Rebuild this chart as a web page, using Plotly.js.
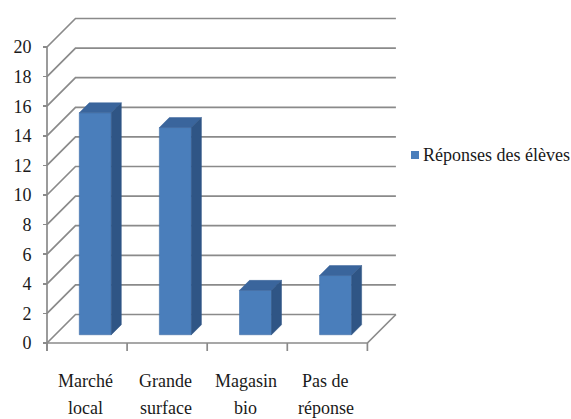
<!DOCTYPE html>
<html>
<head>
<meta charset="utf-8">
<script src="https://cdn.plot.ly/plotly-3.0.1.min.js"></script>
<style>html,body{margin:0;padding:0;background:#fff;}#chart{width:571px;height:419px;}</style>
</head>
<body>
<div id="chart"></div>
<script>
// ---- data ----
const categories = ["Marché local", "Grande surface", "Magasin bio", "Pas de réponse"];
const categoryLabelLines = [["Marché", "local"], ["Grande", "surface"], ["Magasin", "bio"], ["Pas de", "réponse"]];
const values = [15, 14, 3, 4];
const seriesName = "Réponses des élèves";
const yTicks = [0, 2, 4, 6, 8, 10, 12, 14, 16, 18, 20];

// ---- geometry (pixel layout of the pseudo-3D frame) ----
const W = 571, H = 419;
const PX_X0 = 47;          // front left edge of category axis
const PX_PER_CAT = 80.1;
const PX_Y0 = 343;         // front zero line
const PX_PER_UNIT = 14.8;
const DEPTH_PX = 28.5;
const FRONT_F = 0.29, BACK_F = 0.64, BAR_W = 0.4;

const xRange = [-0.5 - PX_X0 / PX_PER_CAT, -0.5 + (W - PX_X0) / PX_PER_CAT];
const yRange = [-(H - PX_Y0) / PX_PER_UNIT, PX_Y0 / PX_PER_UNIT];
const dX = DEPTH_PX / PX_PER_CAT, dY = DEPTH_PX / PX_PER_UNIT;
const n = categories.length;
const yMax = yTicks[yTicks.length - 1];
const xL = -0.5, xR = n - 0.5;

const COL_FRONT = '#4A7EBB', COL_TOP = '#3A659C', COL_SIDE = '#2F5585', GRID = '#8a8a8a';

// back wall + side wall gridlines
const gx = [], gy = [];
yTicks.forEach(v => {
  gx.push(xL, xL + dX, xR + dX, null);
  gy.push(v, v + dY, v + dY, null);
});
// front value axis line
gx.push(xL, xL, null); gy.push(yMax, -8 / PX_PER_UNIT, null);
// floor front edge and right edge
gx.push(xL, xR, xR + dX, null); gy.push(0, 0, dY, null);
// category tick marks
for (let b = 0; b <= n; b++) { gx.push(xL + b, xL + b, null); gy.push(0, -8 / PX_PER_UNIT, null); }

// bar faces
const ddX = (BACK_F - FRONT_F) * dX, ddY = (BACK_F - FRONT_F) * dY;
const tx = [], ty = [], sx = [], sy = [];
values.forEach((v, i) => {
  const xl = i - BAR_W / 2 + FRONT_F * dX, xr = i + BAR_W / 2 + FRONT_F * dX;
  const base = FRONT_F * dY, top = v + base;
  tx.push(xl, xr, xr + ddX, xl + ddX, xl, null);
  ty.push(top, top, top + ddY, top + ddY, top, null);
  sx.push(xr, xr, xr + ddX, xr + ddX, xr, null);
  sy.push(base, top, top + ddY, base + ddY, base, null);
});

const traces = [
  {type: 'scatter', mode: 'lines', x: gx, y: gy, xaxis: 'x', yaxis: 'y',
   line: {color: GRID, width: 1.7}, hoverinfo: 'skip', showlegend: false},
  {type: 'bar', name: seriesName, x: values.map((v, i) => i + FRONT_F * dX), y: values, xaxis: 'x2', yaxis: 'y2',
   base: FRONT_F * dY, width: BAR_W, marker: {color: COL_FRONT, line: {color: '#3F6FA8', width: 0.6}},
   hoverinfo: 'skip', showlegend: false},
  {type: 'scatter', mode: 'lines', x: tx, y: ty, xaxis: 'x2', yaxis: 'y2', fill: 'toself', fillcolor: COL_TOP,
   line: {color: COL_TOP, width: 0.5}, hoverinfo: 'skip', showlegend: false},
  {type: 'scatter', mode: 'lines', x: sx, y: sy, xaxis: 'x2', yaxis: 'y2', fill: 'toself', fillcolor: COL_SIDE,
   line: {color: COL_SIDE, width: 0.5}, hoverinfo: 'skip', showlegend: false}
];

const FONT = {family: 'Liberation Serif', size: 18, color: '#1a1a1a'};

const annotations = [];
categoryLabelLines.forEach((lines, i) => {
  lines.forEach((t, k) => {
    annotations.push({xref: 'x', yref: 'paper', x: i - 0.02, y: 1 - (381 + 27 * k) / H,
      xanchor: 'center', yanchor: 'middle', text: t, showarrow: false, font: FONT});
  });
});
annotations.push({xref: 'paper', yref: 'paper', x: 421 / W, y: 1 - 154.5 / H, xanchor: 'left', yanchor: 'middle',
  text: seriesName, showarrow: false, font: FONT});

const layout = {
  width: W, height: H,
  margin: {l: 0, r: 0, t: 0, b: 0},
  paper_bgcolor: '#ffffff', plot_bgcolor: '#ffffff',
  showlegend: false,
  font: FONT,
  xaxis: {range: xRange, visible: false, fixedrange: true},
  yaxis: {range: yRange, anchor: 'free', position: PX_X0 / W, side: 'left',
    tickvals: yTicks, ticktext: yTicks.map(String), ticks: 'outside', ticklen: 4,
    tickcolor: GRID, tickwidth: 1.5, showline: false, showgrid: false, zeroline: false,
    tickfont: FONT, ticklabelstandoff: 8, fixedrange: true},
  xaxis2: {range: xRange, visible: false, overlaying: 'x', anchor: 'y2', fixedrange: true},
  yaxis2: {range: yRange, visible: false, overlaying: 'y', anchor: 'x2', fixedrange: true},
  shapes: [{type: 'rect', xref: 'paper', yref: 'paper', x0: 411 / W, x1: 419 / W,
    y0: 1 - 159 / H, y1: 1 - 151 / H, fillcolor: COL_FRONT, line: {width: 0}}],
  annotations: annotations
};

Plotly.newPlot('chart', traces, layout, {displayModeBar: false, staticPlot: true});
</script>
</body>
</html>
